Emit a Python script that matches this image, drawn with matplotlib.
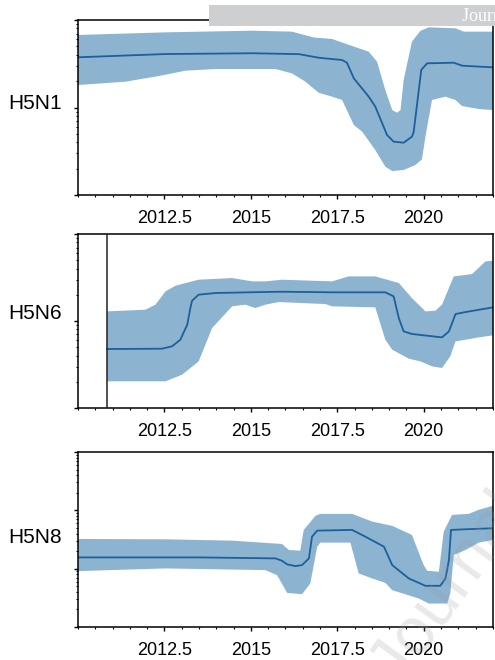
"""
Skyline plots of effective population size for the H5N1, H5N6 and H5N8 subtypes
"""
import numpy as np
import matplotlib
matplotlib.use('Agg')
import matplotlib.pyplot as plt
from matplotlib.ticker import FixedLocator, MultipleLocator, LogLocator, NullFormatter

plt.rcParams['font.family'] = ['Liberation Sans', 'DejaVu Sans']

# Values are log10 of the population size, read per subtype
# H5N1
h5n1_mid_years = [2010.0, 2012.53, 2015.04, 2016.39, 2016.96, 2017.64, 2017.78, 2017.98, 2018.41,
                  2018.60, 2018.94, 2019.13, 2019.42, 2019.66, 2019.71, 2019.93, 2020.10, 2020.87,
                  2021.11, 2022.0]
h5n1_mid = [1.574, 1.611, 1.620, 1.610, 1.569, 1.543, 1.512, 1.333, 1.124, 1.010, 0.686, 0.610,
            0.598, 0.667, 0.720, 1.430, 1.505, 1.512, 1.478, 1.459]
h5n1_hi_years = [2010.0, 2012.53, 2015.04, 2016.19, 2016.82, 2017.35, 2017.93, 2018.41, 2018.65,
                 2018.89, 2019.09, 2019.23, 2019.33, 2019.42, 2019.66, 2019.91, 2020.15, 2020.92,
                 2021.16, 2022.0]
h5n1_hi = [1.829, 1.859, 1.878, 1.867, 1.800, 1.783, 1.703, 1.638, 1.524, 1.200, 0.971, 0.941,
           0.971, 1.314, 1.752, 1.878, 1.916, 1.905, 1.867, 1.867]
h5n1_lo_years = [2010.0, 2011.37, 2012.34, 2013.11, 2013.98, 2015.71, 2016.19, 2016.58, 2016.96,
                 2017.35, 2017.64, 2017.98, 2018.22, 2018.60, 2018.89, 2019.09, 2019.42, 2019.76,
                 2019.95, 2020.05, 2020.24, 2020.63, 2020.92, 2021.11, 2021.59, 2022.0]
h5n1_lo = [1.257, 1.295, 1.360, 1.421, 1.440, 1.440, 1.390, 1.295, 1.169, 1.124, 1.086, 0.800,
           0.724, 0.514, 0.324, 0.274, 0.286, 0.343, 0.408, 0.667, 1.086, 1.124, 1.086, 1.017,
           0.983, 0.971]

# H5N6
h5n6_start = 2010.84
h5n6_mid_years = [2010.84, 2012.43, 2012.72, 2012.96, 2013.16, 2013.25, 2013.30, 2013.49, 2013.98,
                  2014.94, 2015.90, 2017.35, 2018.89, 2019.13, 2019.28, 2019.42, 2019.66, 2020.53,
                  2020.73, 2020.92, 2021.21, 2022.0]
h5n6_mid = [0.678, 0.682, 0.709, 0.785, 0.958, 1.149, 1.234, 1.303, 1.322, 1.330, 1.337, 1.330,
            1.330, 1.284, 1.034, 0.881, 0.851, 0.812, 0.881, 1.080, 1.103, 1.157]
h5n6_hi_years = [2010.84, 2011.95, 2012.24, 2012.53, 2012.82, 2013.49, 2014.46, 2015.04, 2015.42,
                 2015.90, 2017.35, 2017.83, 2018.60, 2019.28, 2019.66, 2020.05, 2020.34, 2020.53,
                 2020.87, 2021.40, 2021.79, 2022.0]
h5n6_hi = [1.111, 1.130, 1.188, 1.341, 1.406, 1.475, 1.494, 1.456, 1.456, 1.475, 1.456, 1.513,
           1.513, 1.437, 1.264, 1.111, 1.119, 1.188, 1.513, 1.540, 1.686, 1.693]
h5n6_lo_years = [2010.84, 2012.53, 2013.01, 2013.49, 2013.88, 2014.46, 2014.84, 2015.13, 2015.42,
                 2015.81, 2017.16, 2017.35, 2018.60, 2018.89, 2019.09, 2019.57, 2019.91, 2020.24,
                 2020.53, 2020.77, 2020.92, 2021.21, 2021.59, 2022.0]
h5n6_lo = [0.307, 0.307, 0.383, 0.536, 0.920, 1.169, 1.188, 1.149, 1.188, 1.218, 1.195, 1.169,
           1.157, 0.785, 0.670, 0.567, 0.536, 0.479, 0.460, 0.594, 0.766, 0.785, 0.812, 0.835]

# H5N8
h5n8_mid_years = [2010.0, 2013.49, 2015.71, 2015.90, 2016.05, 2016.29, 2016.48, 2016.68, 2016.77,
                  2016.92, 2017.93, 2018.31, 2018.85, 2019.09, 2019.57, 2020.05, 2020.48, 2020.63,
                  2020.73, 2020.79, 2021.21, 2022.0]
h5n8_mid = [1.193, 1.193, 1.176, 1.136, 1.073, 1.044, 1.061, 1.176, 1.549, 1.652, 1.664, 1.549,
            1.377, 1.061, 0.832, 0.706, 0.706, 0.832, 1.147, 1.664, 1.675, 1.692]
h5n8_hi_years = [2010.0, 2012.53, 2014.46, 2015.90, 2016.10, 2016.43, 2016.53, 2016.87, 2017.01,
                 2017.93, 2018.51, 2019.09, 2019.66, 2020.00, 2020.10, 2020.44, 2020.58, 2020.82,
                 2021.30, 2021.59, 2022.0]
h5n8_hi = [1.509, 1.503, 1.480, 1.423, 1.320, 1.308, 1.664, 1.905, 1.939, 1.939, 1.807, 1.733,
           1.578, 1.061, 0.964, 0.947, 1.635, 1.922, 1.939, 2.008, 2.077]
h5n8_lo_years = [2010.0, 2012.53, 2015.42, 2015.76, 2016.05, 2016.48, 2016.72, 2016.92, 2017.01,
                 2017.88, 2018.12, 2018.51, 2018.89, 2019.09, 2019.86, 2020.15, 2020.68, 2020.77,
                 2020.87, 2021.21, 2021.59, 2022.0]
h5n8_lo = [0.958, 1.004, 0.975, 0.889, 0.585, 0.562, 0.746, 1.377, 1.446, 1.446, 0.918, 0.832,
           0.757, 0.631, 0.488, 0.402, 0.402, 0.574, 1.234, 1.320, 1.446, 1.492]

subtypes = ['H5N1', 'H5N6', 'H5N8']
year_ticks = [2012.5, 2015, 2017.5, 2020]
year_labels = ['2012.5', '2015', '2017.5', '2020']

BAND_COLOR = '#8cb4d1'
LINE_COLOR = '#1c5f9b'


def draw_skyline(ax, mid_x, mid, hi_x, hi, lo_x, lo, decades, label, label_y):
    # HPD band as one polygon: upper edge forward, lower edge back
    band_x = np.r_[hi_x, lo_x[::-1]]
    band_y = np.power(10.0, np.r_[hi, lo[::-1]])
    ax.fill(band_x, band_y, color=BAND_COLOR, lw=0, zorder=1)
    ax.plot(mid_x, np.power(10.0, mid), color=LINE_COLOR, lw=1.3, zorder=2)

    ax.set_yscale('log')
    ax.set_ylim(1, 10 ** decades)
    ax.set_xlim(2010, 2022)

    ax.xaxis.set_major_locator(FixedLocator(year_ticks))
    ax.set_xticklabels(year_labels, fontsize=13)
    ax.xaxis.set_minor_locator(MultipleLocator(0.5))
    ax.yaxis.set_major_locator(LogLocator(base=10))
    ax.yaxis.set_minor_locator(LogLocator(base=10, subs=np.arange(2, 10)))
    ax.yaxis.set_major_formatter(NullFormatter())
    ax.yaxis.set_minor_formatter(NullFormatter())

    ax.tick_params(axis='x', which='major', length=3, width=1, pad=8)
    ax.tick_params(axis='x', which='minor', length=1.5, width=0.8)
    ax.tick_params(axis='y', which='major', length=3, width=1)
    ax.tick_params(axis='y', which='minor', length=1.5, width=0.8)

    for spine in ax.spines.values():
        spine.set_linewidth(1.1)
        spine.set_color('black')

    ax.text(-0.038, label_y, label, transform=ax.transAxes, fontsize=15,
            ha='right', va='center')


fig = plt.figure(figsize=(4.95, 6.6), dpi=100, facecolor='white')

ax1 = fig.add_axes([0.1576, 0.7045, 0.838, 0.2652])
draw_skyline(ax1, h5n1_mid_years, h5n1_mid, h5n1_hi_years, h5n1_hi, h5n1_lo_years, h5n1_lo,
             2, subtypes[0], 0.523)

ax2 = fig.add_axes([0.1576, 0.3818, 0.838, 0.2636])
draw_skyline(ax2, h5n6_mid_years, h5n6_mid, h5n6_hi_years, h5n6_hi, h5n6_lo_years, h5n6_lo,
             2, subtypes[1], 0.546)
# Root of the H5N6 tree
ax2.axvline(h5n6_start, color='#222222', lw=1.1, zorder=3)

ax3 = fig.add_axes([0.1576, 0.05, 0.838, 0.2652])
draw_skyline(ax3, h5n8_mid_years, h5n8_mid, h5n8_hi_years, h5n8_hi, h5n8_lo_years, h5n8_lo,
             3, subtypes[2], 0.509)

# Header strip and watermark
fig.patches.append(plt.Rectangle((209 / 495, 1 - 26 / 660), 1, 21 / 660,
                                 transform=fig.transFigure, facecolor='#cdcfd1',
                                 edgecolor='none', zorder=5))
fig.text(462 / 495, 1 - 16 / 660, 'Journal Pre-proof', color='white', fontsize=13,
         family=['Liberation Serif', 'DejaVu Serif'], ha='left', va='center', zorder=6)
fig.text(0.83, -0.055, 'Journal Pre-proof', color='#9a9a9a', alpha=0.22, fontsize=48,
         rotation=54, ha='left', va='bottom', rotation_mode='anchor', zorder=6,
         transform=fig.transFigure)

fig.savefig('out.png', dpi=100, facecolor='white')
plt.close(fig)
